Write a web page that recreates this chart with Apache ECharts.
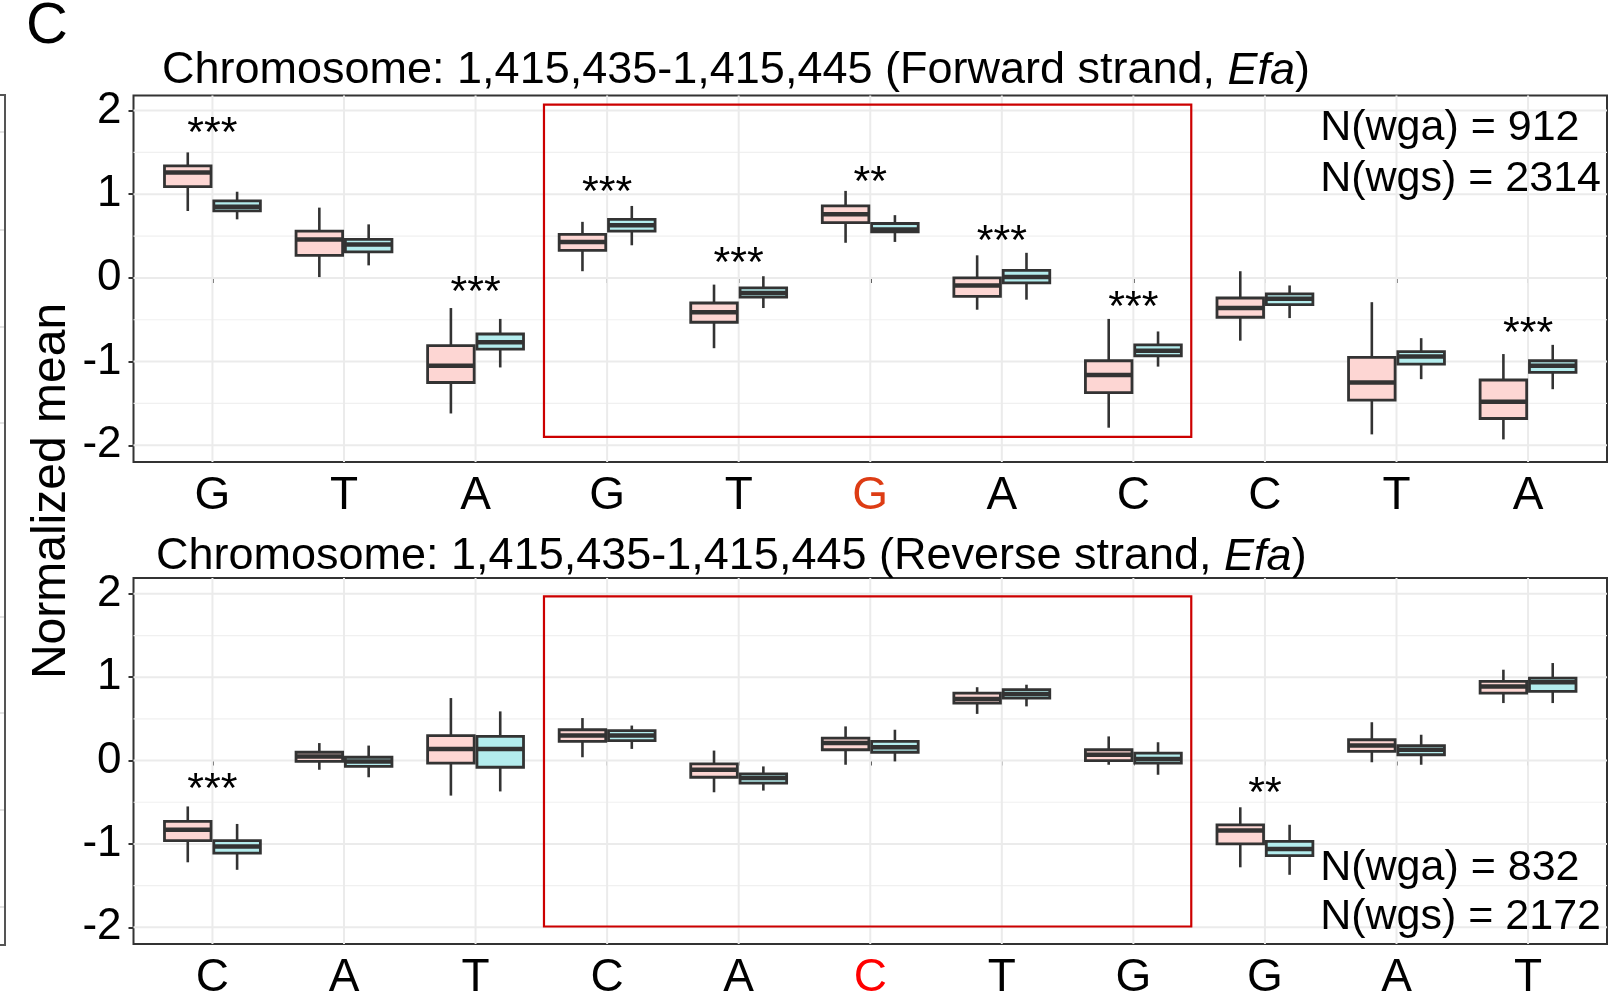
<!DOCTYPE html>
<html><head><meta charset="utf-8">
<script src="https://cdn.jsdelivr.net/npm/echarts@6/dist/echarts.min.js"></script>
<style>html,body{margin:0;padding:0;background:#fff}#c{width:1610px;height:1001px}</style>
</head><body><div id="c"></div>
<script>
// ---------- DATA ----------
const topCategories = ['G','T','A','G','T','G','A','C','C','T','A'];
const topHighlight = 5;
// [lower whisker, Q1, median, Q3, upper whisker]
const topWga = [
  [0.80, 1.09, 1.26, 1.34, 1.50],
  [0.01, 0.27, 0.46, 0.56, 0.84],
  [-1.62, -1.25, -1.05, -0.81, -0.36],
  [0.08, 0.33, 0.43, 0.52, 0.67],
  [-0.84, -0.53, -0.41, -0.30, -0.08],
  [0.42, 0.66, 0.76, 0.86, 1.04],
  [-0.38, -0.22, -0.09, 0.00, 0.27],
  [-1.79, -1.37, -1.16, -0.99, -0.49],
  [-0.75, -0.47, -0.36, -0.24, 0.08],
  [-1.87, -1.46, -1.25, -0.95, -0.29],
  [-1.93, -1.68, -1.48, -1.22, -0.91]
];
const topWgs = [
  [0.70, 0.80, 0.85, 0.92, 1.03],
  [0.15, 0.31, 0.40, 0.46, 0.64],
  [-1.07, -0.85, -0.77, -0.67, -0.49],
  [0.39, 0.56, 0.63, 0.70, 0.86],
  [-0.36, -0.23, -0.18, -0.12, 0.02],
  [0.43, 0.55, 0.58, 0.65, 0.75],
  [-0.26, -0.06, 0.01, 0.09, 0.30],
  [-1.06, -0.93, -0.87, -0.80, -0.64],
  [-0.48, -0.32, -0.25, -0.19, -0.09],
  [-1.21, -1.03, -0.94, -0.88, -0.72],
  [-1.33, -1.13, -1.05, -0.99, -0.80]
];
const topStars = ['***', '', '***', '***', '***', '**', '***', '***', '', '', '***'];
const topStarY = [1.82, null, -0.07, 1.12, 0.27, 1.24, 0.54, -0.25, null, null, -0.57];
const topN = ['N(wga) = 912', 'N(wgs) = 2314'];
const topNY = [1.79, 1.18];
const topBox = [3.52, -1.90, 8.44, 2.07];
const topTitle = 'Chromosome: 1,415,435-1,415,445 (Forward strand, {i|Efa})';

const botCategories = ['C','A','T','C','A','C','T','G','G','A','T'];
const botHighlight = 5;
const botWga = [
  [-1.22, -0.96, -0.83, -0.73, -0.55],
  [-0.11, -0.01, 0.05, 0.10, 0.21],
  [-0.42, -0.03, 0.14, 0.30, 0.75],
  [0.04, 0.23, 0.30, 0.37, 0.51],
  [-0.38, -0.20, -0.11, -0.04, 0.12],
  [-0.05, 0.13, 0.21, 0.27, 0.41],
  [0.56, 0.69, 0.74, 0.81, 0.88],
  [-0.05, 0.00, 0.07, 0.13, 0.29],
  [-1.28, -1.00, -0.84, -0.77, -0.56],
  [-0.02, 0.11, 0.18, 0.25, 0.46],
  [0.69, 0.81, 0.89, 0.95, 1.09]
];
const botWgs = [
  [-1.31, -1.11, -1.03, -0.96, -0.76],
  [-0.20, -0.07, -0.01, 0.04, 0.18],
  [-0.37, -0.08, 0.14, 0.29, 0.59],
  [0.14, 0.24, 0.30, 0.36, 0.42],
  [-0.36, -0.27, -0.21, -0.16, -0.07],
  [-0.01, 0.10, 0.16, 0.23, 0.37],
  [0.65, 0.75, 0.80, 0.85, 0.91],
  [-0.17, -0.03, 0.02, 0.09, 0.22],
  [-1.37, -1.14, -1.06, -0.97, -0.77],
  [-0.05, 0.07, 0.13, 0.18, 0.31],
  [0.69, 0.83, 0.94, 0.99, 1.17]
];
const botStars = ['***', '', '', '', '', '', '', '', '**', '', ''];
const botStarY = [-0.25, null, null, null, null, null, null, null, -0.30, null, null];
const botN = ['N(wga) = 832', 'N(wgs) = 2172'];
const botNY = [-1.29, -1.88];
const botBox = [3.52, -1.99, 8.44, 1.97];
const botTitle = 'Chromosome: 1,415,435-1,415,445 (Reverse strand, {i|Efa})';

const yTicks = [-2, -1, 0, 1, 2];
const yMinor = [-1.5, -0.5, 0.5, 1.5];
const nLabelX = 9.42;

// ---------- STYLE ----------
const FONT = '"Liberation Sans", Arial, Helvetica, sans-serif';
const X_MIN = 0.4, X_MAX = 11.6;
const TOP_Y = [-2.2, 2.18], BOT_Y = [-2.2, 2.19];
const BOX_HALF = 0.177, DODGE = 0.1875;
const WGA_FILL = '#FDD6D3', WGS_FILL = '#B3ECED';
const DARK = '#333333';
const GRID_COL = '#EBEBEB';
const ANN_FONT = 43, XLAB_FONT = 46, YLAB_FONT = 44;

const chart = echarts.init(document.getElementById('c'), null, {renderer: 'canvas'});

function boxRender(offset, fill) {
  return function (params, api) {
    const c = api.value(0) + offset;
    const lo = api.coord([c, api.value(1)]);
    const q1 = api.coord([c, api.value(2)]);
    const md = api.coord([c, api.value(3)]);
    const q3 = api.coord([c, api.value(4)]);
    const hi = api.coord([c, api.value(5)]);
    const hw = api.size([BOX_HALF, 0])[0];
    const x = lo[0];
    return {type: 'group', children: [
      {type: 'line', shape: {x1: x, y1: hi[1], x2: x, y2: q3[1]}, style: {stroke: DARK, lineWidth: 2.6}},
      {type: 'line', shape: {x1: x, y1: q1[1], x2: x, y2: lo[1]}, style: {stroke: DARK, lineWidth: 2.6}},
      {type: 'rect', shape: {x: x - hw, y: q3[1], width: 2 * hw, height: q1[1] - q3[1]}, style: {fill: fill, stroke: DARK, lineWidth: 2.8}},
      {type: 'line', shape: {x1: x - hw, y1: md[1], x2: x + hw, y2: md[1]}, style: {stroke: DARK, lineWidth: 4.5}}
    ]};
  };
}

function textRender(labels, align, dy) {
  return function (params, api) {
    const p = api.coord([api.value(0), api.value(1)]);
    return {type: 'text', x: p[0], y: p[1] + dy, style: {
      text: labels[params.dataIndex], fill: '#000', fontSize: ANN_FONT, fontFamily: FONT,
      align: align, verticalAlign: 'middle'
    }};
  };
}

function panelSeries(gi, cats, wga, wgs, stars, starY, nLabels, nY, box, yr) {
  const s = [];
  s.push({type: 'custom', xAxisIndex: gi, yAxisIndex: gi, z: 1, silent: true,
    data: yTicks.map(v => [X_MIN, v]),
    renderItem: (p, api) => {
      const a = api.coord([X_MIN, api.value(1)]), b = api.coord([X_MAX, api.value(1)]);
      return {type: 'line', shape: {x1: a[0], y1: a[1], x2: b[0], y2: b[1]}, style: {stroke: GRID_COL, lineWidth: 2}};
    }});
  s.push({type: 'custom', xAxisIndex: gi, yAxisIndex: gi, z: 1, silent: true,
    data: yMinor.map(v => [X_MIN, v]),
    renderItem: (p, api) => {
      const a = api.coord([X_MIN, api.value(1)]), b = api.coord([X_MAX, api.value(1)]);
      return {type: 'line', shape: {x1: a[0], y1: a[1], x2: b[0], y2: b[1]}, style: {stroke: '#F0F0F0', lineWidth: 1.2}};
    }});
  s.push({type: 'custom', xAxisIndex: gi, yAxisIndex: gi, z: 1, silent: true,
    data: cats.map((c, i) => [i + 1, yr[0]]),
    renderItem: (p, api) => {
      const a = api.coord([api.value(0), yr[0]]), b = api.coord([api.value(0), yr[1]]);
      return {type: 'line', shape: {x1: a[0], y1: a[1], x2: b[0], y2: b[1]}, style: {stroke: GRID_COL, lineWidth: 2}};
    }});
  s.push({type: 'custom', xAxisIndex: gi, yAxisIndex: gi, z: 2, silent: true,
    data: [box], encode: {x: [0, 2], y: [1, 3]},
    renderItem: (p, api) => {
      const a = api.coord([api.value(0), api.value(3)]), b = api.coord([api.value(2), api.value(1)]);
      return {type: 'rect', shape: {x: a[0], y: a[1], width: b[0] - a[0], height: b[1] - a[1]}, style: {fill: 'none', stroke: '#CC0000', lineWidth: 2.2}};
    }});
  s.push({type: 'custom', name: 'wga', xAxisIndex: gi, yAxisIndex: gi, z: 3, silent: true,
    data: wga.map((d, i) => [i + 1].concat(d)), encode: {x: 0, y: [1, 2, 3, 4, 5]},
    renderItem: boxRender(-DODGE, WGA_FILL)});
  s.push({type: 'custom', name: 'wgs', xAxisIndex: gi, yAxisIndex: gi, z: 3, silent: true,
    data: wgs.map((d, i) => [i + 1].concat(d)), encode: {x: 0, y: [1, 2, 3, 4, 5]},
    renderItem: boxRender(DODGE, WGS_FILL)});
  const sLab = [], sDat = [];
  stars.forEach((t, i) => { if (t) { sLab.push(t); sDat.push([i + 1, starY[i]]); } });
  s.push({type: 'custom', xAxisIndex: gi, yAxisIndex: gi, z: 4, silent: true,
    data: sDat, renderItem: textRender(sLab, 'center', 9)});
  s.push({type: 'custom', xAxisIndex: gi, yAxisIndex: gi, z: 4, silent: true,
    data: nY.map(v => [nLabelX, v]), renderItem: textRender(nLabels, 'left', 0)});
  return s;
}

function xAxisOf(gi, cats, hl, hlColor) {
  const vals = cats.map((c, i) => i + 1);
  return {type: 'value', gridIndex: gi, min: X_MIN, max: X_MAX,
    axisLine: {show: false}, splitLine: {show: false},
    axisTick: {show: true, customValues: vals, length: 5, lineStyle: {color: DARK, width: 2}},
    axisLabel: {show: true, customValues: vals, margin: 11, fontSize: XLAB_FONT, fontFamily: FONT, color: '#000',
      formatter: v => { const i = Math.round(v) - 1; return i === hl ? '{r|' + cats[i] + '}' : '{n|' + cats[i] + '}'; },
      rich: {r: {color: hlColor, fontSize: XLAB_FONT, fontFamily: FONT}, n: {color: '#000', fontSize: XLAB_FONT, fontFamily: FONT}}}
  };
}
function yAxisOf(gi, yr) {
  return {type: 'value', gridIndex: gi, min: yr[0], max: yr[1],
    axisLine: {show: false}, splitLine: {show: false},
    axisTick: {show: true, customValues: yTicks, length: 5, lineStyle: {color: DARK, width: 2}},
    axisLabel: {show: true, customValues: yTicks, margin: 12, fontSize: YLAB_FONT, fontFamily: FONT, color: '#000',
      formatter: v => String(v)}
  };
}

const fragYs = [132, 230, 327, 423, 617, 713, 810, 907];

const option = {
  animation: false,
  backgroundColor: '#ffffff',
  grid: [
    {left: 133.5, top: 95.5, width: 1473.5, height: 366.5, show: true, borderColor: DARK, borderWidth: 2, backgroundColor: 'transparent', containLabel: false},
    {left: 133.5, top: 578, width: 1473.5, height: 367, show: true, borderColor: DARK, borderWidth: 2, backgroundColor: 'transparent', containLabel: false}
  ],
  xAxis: [xAxisOf(0, topCategories, topHighlight, '#DD3C14'), xAxisOf(1, botCategories, botHighlight, '#FF0000')],
  yAxis: [yAxisOf(0, TOP_Y), yAxisOf(1, BOT_Y)],
  series: [].concat(
    panelSeries(0, topCategories, topWga, topWgs, topStars, topStarY, topN, topNY, topBox, TOP_Y),
    panelSeries(1, botCategories, botWga, botWgs, botStars, botStarY, botN, botNY, botBox, BOT_Y)
  ),
  graphic: [
    {type: 'text', x: 26, y: 27, style: {text: 'C', fontSize: 58, fontFamily: FONT, fill: '#000', align: 'left', verticalAlign: 'middle'}},
    {type: 'text', x: 162, y: 71, style: {text: topTitle, fontSize: 45, fontFamily: FONT, fill: '#000', align: 'left', verticalAlign: 'middle',
      rich: {i: {fontStyle: 'italic', fontSize: 45, fontFamily: FONT, fill: '#000'}}}},
    {type: 'text', x: 156, y: 557, style: {text: botTitle, fontSize: 45, fontFamily: FONT, fill: '#000', align: 'left', verticalAlign: 'middle',
      rich: {i: {fontStyle: 'italic', fontSize: 45, fontFamily: FONT, fill: '#000'}}}},
    {type: 'text', x: 52, y: 491, rotation: Math.PI / 2, style: {text: 'Normalized mean', fontSize: 48, fontFamily: FONT, fill: '#000', align: 'center', verticalAlign: 'middle'}},
    {type: 'polyline', shape: {points: [[0, 95], [5, 95], [5, 945], [0, 945]]}, style: {stroke: '#555', lineWidth: 2, fill: null}}
  ].concat(fragYs.map(y => ({type: 'line', shape: {x1: 0, y1: y, x2: 4, y2: y}, style: {stroke: '#E3E3E3', lineWidth: 2}})))
};
chart.setOption(option);
</script>
</body></html>
